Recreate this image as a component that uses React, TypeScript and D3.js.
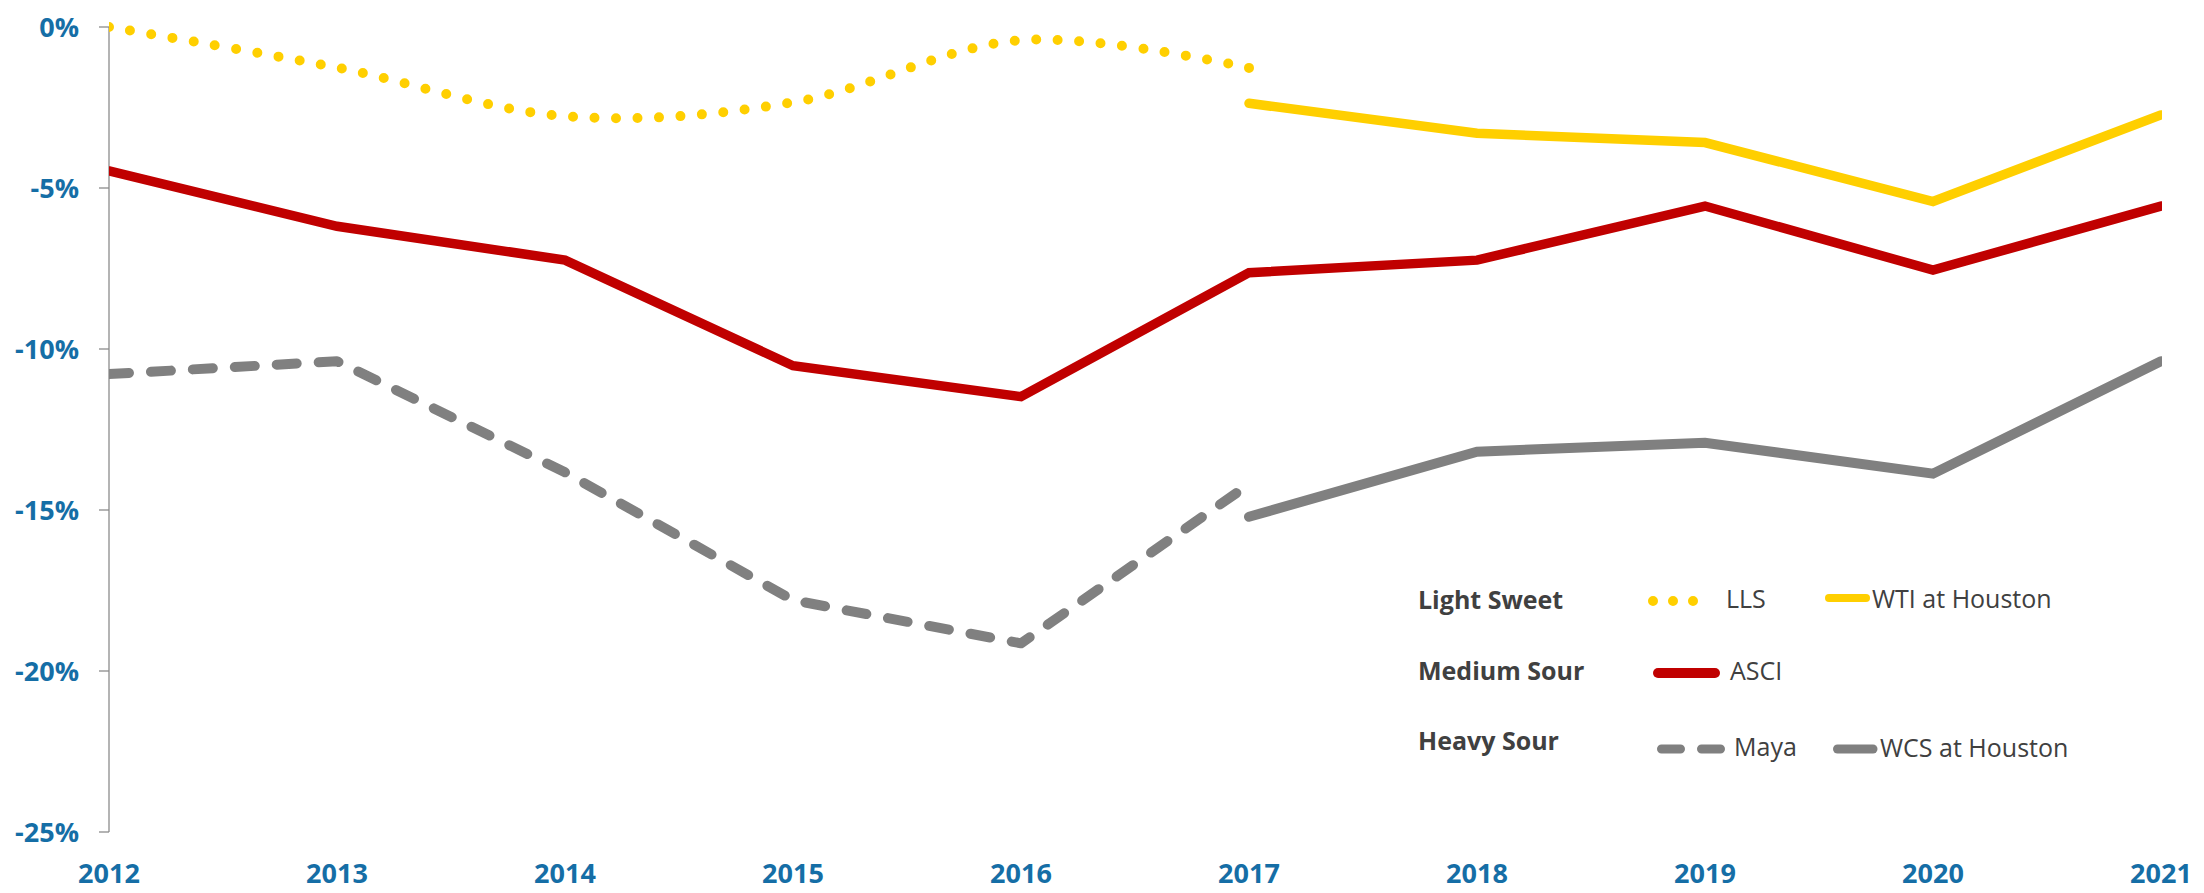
import React from "react";
import * as d3 from "d3";

const years = [2012, 2013, 2014, 2015, 2016, 2017, 2018, 2019, 2020, 2021];
const yTicks = [0, -5, -10, -15, -20, -25];

const llsYears = [2012, 2013, 2014, 2015, 2016, 2017];
const llsValues = [0, -1.26, -2.77, -2.34, -0.41, -1.27];

const wtiYears = [2017, 2018, 2019, 2020, 2021];
const wtiValues = [-2.37, -3.3, -3.59, -5.42, -2.73];

const asciYears = years;
const asciValues = [-4.47, -6.19, -7.24, -10.52, -11.48, -7.63, -7.24, -5.56, -7.55, -5.56];

const mayaYears = [2012, 2013, 2014, 2015, 2016, 2017];
const mayaValues = [-10.78, -10.38, -13.83, -17.8, -19.14, -14.2];

const wcsYears = [2017, 2018, 2019, 2020, 2021];
const wcsValues = [-15.21, -13.19, -12.91, -13.87, -10.38];

const W = 2204;
const H = 893;
const left = 109;
const right = 2161;
const top = 27;
const bottom = 832;

const BLUE = "#156EA6";
const YELLOW = "#FFCF00";
const RED = "#C00000";
const GRAY = "#808080";
const AXIS = "#8C8C8C";
const TEXT = "#404040";
const FONT = "'Open Sans', sans-serif";

export default function App() {
  const x = d3.scaleLinear().domain([2012, 2021]).range([left, right]);
  const y = d3.scaleLinear().domain([0, -25]).range([top, bottom]);

  const straight = d3
    .line<[number, number]>()
    .x((d) => x(d[0]))
    .y((d) => y(d[1]));
  const smooth = d3
    .line<[number, number]>()
    .x((d) => x(d[0]))
    .y((d) => y(d[1]))
    .curve(d3.curveCatmullRom.alpha(0));

  const zip = (a: number[], b: number[]) => a.map((v, i) => [v, b[i]] as [number, number]);

  return (
    <svg
      width={W}
      height={H}
      style={{ position: "absolute", left: 0, top: 0, background: "#fff" }}
      fontFamily={FONT}
    >
      <defs>
        <clipPath id="plot">
          <rect x={left} y={0} width={right - left + 1} height={H} />
        </clipPath>
      </defs>

      {/* y axis */}
      <line x1={left} x2={left} y1={y(0)} y2={y(-25)} stroke={AXIS} strokeWidth={1.3} />
      {yTicks.map((t) => (
        <g key={t}>
          <line x1={left - 10} x2={left} y1={y(t)} y2={y(t)} stroke={AXIS} strokeWidth={1.3} />
          <text
            x={79}
            y={y(t) + 9.6}
            textAnchor="end"
            fill={BLUE}
            fontWeight={700}
            fontSize={27}
          >
            {t + "%"}
          </text>
        </g>
      ))}

      {/* x labels */}
      {years.map((yr) => (
        <text
          key={yr}
          x={x(yr)}
          y={883}
          textAnchor="middle"
          fill={BLUE}
          fontWeight={700}
          fontSize={27}
        >
          {yr}
        </text>
      ))}

      <g clipPath="url(#plot)" fill="none">
        <path
          d={smooth(zip(llsYears, llsValues)) || ""}
          stroke={YELLOW}
          strokeWidth={10}
          strokeLinecap="round"
          strokeDasharray="0 21.5"
        />
        <path
          d={straight(zip(wtiYears, wtiValues)) || ""}
          stroke={YELLOW}
          strokeWidth={9.5}
          strokeLinecap="round"
          strokeLinejoin="miter"
        />
        <path
          d={straight(zip(asciYears, asciValues)) || ""}
          stroke={RED}
          strokeWidth={9.5}
          strokeLinecap="round"
          strokeLinejoin="miter"
        />
        <path
          d={straight(zip(mayaYears, mayaValues)) || ""}
          stroke={GRAY}
          strokeWidth={10}
          strokeLinecap="round"
          strokeLinejoin="round"
          strokeDasharray="20 22"
        />
        <path
          d={straight(zip(wcsYears, wcsValues)) || ""}
          stroke={GRAY}
          strokeWidth={10}
          strokeLinecap="round"
          strokeLinejoin="miter"
        />
      </g>

      {/* legend */}
      <g fill={TEXT}>
        <text x={1418} y={609} fontWeight={700} fontSize={25}>Light Sweet</text>
        <text x={1418} y={680} fontWeight={700} fontSize={25}>Medium Sour</text>
        <text x={1418} y={750} fontWeight={700} fontSize={25}>Heavy Sour</text>
        <text x={1726} y={608} fontSize={25}>LLS</text>
        <text x={1872} y={608} fontSize={25}>WTI at Houston</text>
        <text x={1730} y={680} fontSize={25}>ASCI</text>
        <text x={1734} y={756} fontSize={25}>Maya</text>
        <text x={1880} y={757} fontSize={25}>WCS at Houston</text>
      </g>
      <g fill="none" strokeLinecap="round">
        <line x1={1653} x2={1694} y1={601} y2={601} stroke={YELLOW} strokeWidth={10} strokeDasharray="0 20" />
        <line x1={1829} x2={1866} y1={598} y2={598} stroke={YELLOW} strokeWidth={8} />
        <line x1={1658} x2={1715} y1={673} y2={673} stroke={RED} strokeWidth={10} />
        <line x1={1661.5} x2={1720.5} y1={749} y2={749} stroke={GRAY} strokeWidth={9} strokeDasharray="19 21" />
        <line x1={1837.5} x2={1873} y1={749} y2={749} stroke={GRAY} strokeWidth={9} />
      </g>
    </svg>
  );
}
